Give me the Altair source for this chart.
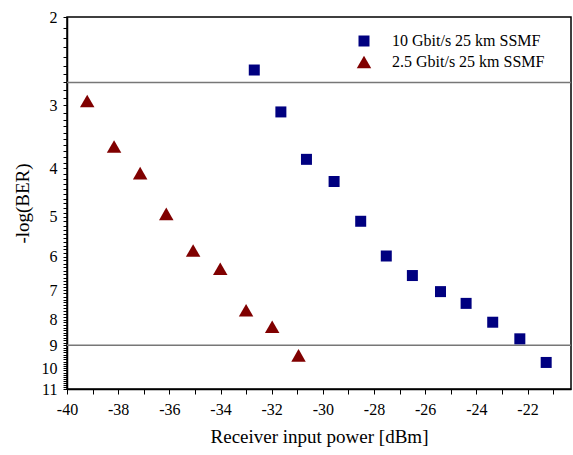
import math
import altair as alt
import pandas as pd

# ---- data ----
series_names = ["10 Gbit/s 25 km SSMF", "2.5 Gbit/s 25 km SSMF"]
power_10g = [-32.68, -31.64, -30.64, -29.56, -28.52, -27.52, -26.5, -25.4, -24.4, -23.36, -22.3, -21.27]
nlog_10g = [2.55, 3.09, 3.84, 4.25, 5.10, 5.98, 6.54, 7.04, 7.43, 8.10, 8.74, 9.74]
power_2g5 = [-39.21, -38.16, -37.14, -36.12, -35.07, -34.01, -33.0, -31.98, -30.95]
nlog_2g5 = [2.94, 3.62, 4.09, 4.93, 5.83, 6.34, 7.67, 8.27, 9.43]
threshold_levels = [2.7, 9.0]
x_domain = [-40, -20.3]
y_domain = [2, 11]
x_all_ticks = list(range(-40, -20))
y_all_ticks = [round(2 + 0.1 * i, 1) for i in range(91)]
series_colors = ["#000080", "#800000"]
series_shapes = ["square", "triangle-up"]

points = pd.DataFrame({
    "power": power_10g + power_2g5,
    "nlog": nlog_10g + nlog_2g5,
    "series": [series_names[0]] * len(power_10g) + [series_names[1]] * len(power_2g5),
})
levels = pd.DataFrame({"level": threshold_levels})

serif = "Liberation Serif"
# logarithmic y axis built on a linear scale of log10 values
log_expr = "log({})/LN10"
y_all_pos = [math.log10(v) for v in y_all_ticks]
x_scale = alt.Scale(domain=x_domain, nice=False, zero=False)
y_scale = alt.Scale(domain=[math.log10(y_domain[0]), math.log10(y_domain[1])],
                    reverse=True, nice=False, zero=False)

common = dict(grid=False, ticks=True, tickColor="black", tickWidth=1, domainColor="black",
              domainWidth=1.5, labelColor="black", titleColor="black",
              labelFont=serif, titleFont=serif, titleFontWeight="normal",
              labelFlush=False, labelOverlap=False)

x_bottom = alt.Axis(
    orient="bottom", values=x_all_ticks, tickSize=5,
    labelExpr="datum.value % 2 === 0 ? '' + datum.value : ''",
    title="Receiver input power [dBm]",
    labelFontSize=16, labelPadding=7,
    titleFontSize=19, titlePadding=10, **common,
)
y_left = alt.Axis(
    orient="left", values=y_all_pos, tickSize=4,
    labelExpr="abs(pow(10, datum.value) - round(pow(10, datum.value))) < 0.000001 ? '' + round(pow(10, datum.value)) : ''",
    title="-log(BER)",
    labelFontSize=16, labelPadding=6,
    titleFontSize=19, titlePadding=9, **common,
)

legend = alt.Legend(
    title=None, orient="none", legendX=289, legendY=16,
    labelFont=serif, labelFontSize=16, labelColor="black",
    symbolSize=150, labelOffset=20, rowPadding=5, padding=0,
    symbolStrokeWidth=0,
)

rules = alt.Chart(levels).transform_calculate(
    ly=log_expr.format("datum.level")
).mark_rule(color="#777777", strokeWidth=1.5).encode(
    y=alt.Y("ly:Q", scale=y_scale, axis=y_left)
)

pts = alt.Chart(points).transform_calculate(
    ly=log_expr.format("datum.nlog")
).mark_point(filled=True, opacity=1).encode(
    x=alt.X("power:Q", scale=x_scale, axis=x_bottom),
    y=alt.Y("ly:Q", scale=y_scale, axis=y_left),
    color=alt.Color("series:N", scale=alt.Scale(domain=series_names, range=series_colors), legend=legend),
    shape=alt.Shape("series:N", scale=alt.Scale(domain=series_names, range=series_shapes), legend=legend),
    size=alt.Size("series:N", scale=alt.Scale(domain=series_names, range=[121, 210]), legend=None),
)

chart = alt.layer(rules, pts).properties(
    width=504, height=372,
    autosize=alt.AutoSizeParams(type="none"),
    padding={"left": 67, "top": 17, "right": 2, "bottom": 66},
).configure_view(
    stroke="black", strokeWidth=1.5
)

chart.save("out.html", embed_options={"renderer": "svg", "actions": False})
